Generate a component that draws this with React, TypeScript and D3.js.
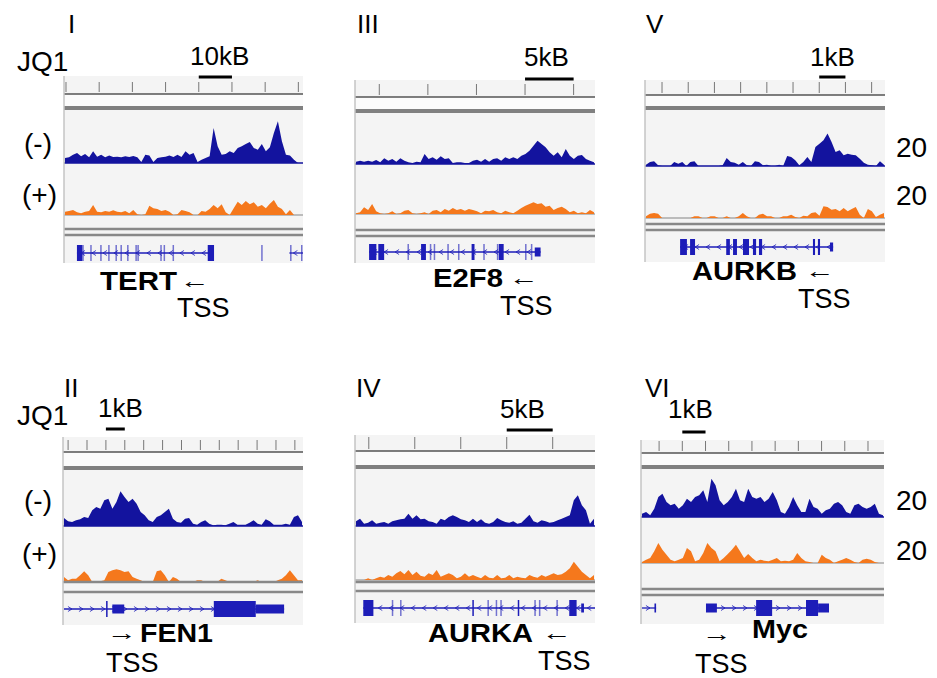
import React, { useRef, useEffect } from 'react';
import * as d3 from 'd3';

// coverage (reads, 0-20 scale) for each locus, JQ1 (-) blue and (+) orange
const tertMinus = [2, 2.3, 3.3, 4, 2.7, 3.6, 2.3, 4.7, 2.5, 3.3, 2.3, 3, 2.4, 2.5, 2.3, 2.7, 2.4, 2.8, 2.3, 0.4, 3.3, 3, 0.4, 2, 2.3, 2.5, 3, 2.4, 3.3, 2.4, 4.7, 3.3, 4, 0.4, 1.3, 2, 2.7, 14, 6.7, 3.3, 3.6, 4.7, 4, 6, 6.7, 7.6, 8.4, 6, 5.3, 7.6, 4.7, 6.3, 12, 16.7, 8.7, 3.3, 3, 1.3, 0, 0];
const tertPlus = [1.3, 1.6, 2, 1.1, 0.7, 1.3, 1.6, 4, 1.3, 1.1, 1.6, 1.3, 1.9, 1.3, 1.1, 1.6, 0.7, 2, 0.3, 0, 0.3, 3.7, 2.7, 2.4, 1.6, 2, 1.3, 0, 0.3, 2, 1.6, 1.1, 0, 0, 1.6, 1.3, 2.4, 4, 2.7, 4.3, 1.1, 0, 2.7, 5.3, 4, 5.6, 4.3, 5.1, 3.3, 4, 2.7, 4.5, 6, 3.3, 2.4, 0.3, 2, 0, 0, 0];
const e2f8Minus = [0.9, 1.3, 0.9, 1.3, 0.9, 1.6, 0.7, 2.3, 1.3, 2, 0.9, 2.3, 1.3, 0.7, 0.4, 0.9, 0.7, 4, 2, 2.7, 1.7, 3.1, 2, 2.3, 0.4, 0.7, 0.7, 0.4, 0.4, 1.3, 1.7, 0.9, 2, 0.9, 2, 2.3, 1.3, 2.7, 2, 2.7, 2, 3.3, 4, 5.3, 7.3, 9.3, 8, 6.7, 4.7, 3.3, 4.7, 2.7, 6, 3.3, 2, 3.3, 3.6, 2, 1.3, 0.7];
const e2f8Plus = [0.3, 0.7, 2.7, 1.6, 4, 1.1, 0.3, 0, 0.3, 1.1, 0, 0.3, 1.3, 1.6, 0.3, 0, 0.3, 0.7, 0, 1.3, 1.6, 0.7, 2, 1.3, 2.4, 1.6, 2, 1.3, 2, 1.6, 1.1, 0.3, 1.3, 1.1, 1.6, 0.7, 0.3, 1.3, 0.7, 0.3, 1.3, 2.4, 3.3, 4, 4.7, 4, 4.3, 2.9, 3.3, 1.6, 2.4, 2.9, 2, 0.7, 1.3, 0.3, 0.7, 0.3, 1.6, 0.7];
const aurkbMinus = [0.5, 1.6, 1.9, 0.3, 0, 0, 0, 1.6, 0.9, 1.6, 0, 1.6, 1.9, 0, 0, 0, 0, 0, 0, 0.3, 3.2, 1.6, 1.3, 0.5, 1.6, 0.3, 0, 1.9, 1.6, 0.3, 0.5, 0, 0, 0.5, 0, 4, 3.6, 2.3, 0.3, 1.6, 3.6, 1.6, 7.6, 8.9, 10.3, 13, 9.6, 5.6, 6.3, 4.3, 4.9, 4.5, 4.3, 2.9, 1.3, 0.5, 0.3, 0, 1.9, 0.5];
const aurkbPlus = [0.7, 1.7, 2, 1.7, 0, 0, 0, 0, 0, 0, 0, 0, 0.7, 0.7, 0, 0, 0.7, 0.7, 0, 0, 0.7, 0, 0, 0.7, 2, 0.7, 0, 0, 1.3, 1.7, 0.7, 0.7, 0, 0, 0.7, 0.7, 1.3, 0.4, 0, 0.9, 0.7, 2, 2.3, 0.9, 4.7, 4.4, 3.3, 3.6, 2.7, 4, 2.7, 3.6, 4.4, 1.3, 0, 3.6, 2.7, 0.4, 1.3, 2];
const fen1Minus = [3.2, 1.9, 1.6, 2.3, 2.7, 3.6, 3.2, 6.3, 7.6, 6.9, 10.3, 10.9, 6.9, 9.6, 13.9, 11.6, 9.6, 10.9, 8.9, 5.6, 4.3, 2.3, 1.6, 3.6, 4.3, 5.6, 6.9, 2.9, 1.6, 1.3, 2.9, 3.2, 0.9, 0.5, 1.6, 2.3, 0.9, 0.3, 0.5, 0.5, 0.3, 0.9, 1.6, 0.5, 0.5, 0.5, 1.3, 2.3, 0.9, 0.5, 2.7, 1.9, 0.5, 0.5, 0.5, 0.9, 0.5, 3.6, 4.3, 1.6];
const fen1Plus = [2, 0.7, 1.3, 1.3, 2.7, 4.3, 2.7, 0, 0, 0.3, 0.7, 4, 4.7, 5.1, 4.7, 4, 4.3, 2, 1.3, 0.7, 0, 0, 0, 4.3, 4.7, 2.7, 0, 2, 1.3, 0, 0, 0, 0, 0.7, 0.7, 0, 0, 0, 0, 1.3, 0.7, 0, 0, 0, 0, 0, 0, 0, 0.7, 0, 0, 0, 0, 0.7, 1.3, 2.7, 4.7, 2.7, 0.7, 0.7];
const aurkaMinus = [1.9, 2.9, 0.9, 1.3, 2.3, 0.9, 1.3, 1.6, 0.9, 1.9, 2.3, 2.7, 2.9, 4.9, 2.9, 4.3, 2.7, 2.9, 1.9, 1.6, 0.9, 2.9, 2.3, 3.6, 4.3, 3.6, 2.7, 2.3, 1.6, 2.9, 1.6, 2.7, 1.3, 0.9, 1.6, 3.2, 2.3, 1.6, 1.3, 1.9, 0.9, 1.3, 2.9, 4.5, 1.9, 1.3, 2.3, 1.9, 1.3, 1.6, 2.3, 2.9, 3.6, 4.3, 10.3, 12.3, 8.3, 6.3, 0.9, 2.9];
const aurkaPlus = [0, 0, 0, 0.7, 0, 0.7, 1.3, 0.9, 2, 1.3, 2.7, 3.6, 2.3, 4, 2, 3.3, 1.7, 1.3, 2.7, 2, 4, 1.3, 2, 2.7, 2, 0.7, 1.3, 2.7, 1.3, 2, 1.3, 0.7, 2, 0.9, 0.7, 2, 0.7, 0.9, 2, 0.7, 1.3, 0.9, 0.7, 2, 1.3, 0.9, 2, 1.3, 2, 2.7, 2, 2.3, 3.3, 4.7, 7.3, 5.3, 3.3, 2, 0.7, 2];
const mycMinus = [1.3, 2, 0.7, 3.3, 8, 9.3, 6, 4.7, 5.3, 3.3, 4.7, 7.3, 6, 8, 8.7, 10.7, 6, 15.3, 12.7, 6.7, 4.7, 6, 8, 11.3, 6.7, 6, 11.3, 8, 7.3, 8, 6, 7.3, 10, 6.7, 2, 1.3, 4, 8, 4.7, 2, 2, 7.3, 4, 3.3, 1.3, 2.7, 3.3, 5.3, 6, 4.7, 2, 1.3, 4.7, 5.3, 4, 3.3, 4, 5.3, 1.3, 0.7];
const mycPlus = [0.4, 1.3, 2, 4.7, 8, 5.3, 3.3, 1.3, 0.7, 1.3, 2, 6, 4.7, 0.7, 1.3, 4, 8, 6, 4.7, 0.7, 2, 3.6, 5.3, 7.3, 4.7, 2, 3.6, 2, 0.7, 1.3, 0.9, 0.7, 1.3, 2, 0.7, 0.9, 0.7, 1.3, 4, 2, 0.7, 0.4, 0, 0, 3.3, 2, 1.3, 0, 0.7, 1.3, 2, 1.3, 0.4, 0, 1.3, 1.7, 1.3, 0.4, 0, 0];

// gene models in kb from the left edge of each view: [start, end, c=coding / u=utr]
const tertIntrons = [[3.9, 45.2], [67.9, 72]];
const tertExons = [[3.9, 5.5, 'c'], [5.5, 5.6, 'c'], [7.9, 8.0, 'c'], [10.9, 11.0, 'c'], [13.3, 13.4, 'c'], [15.5, 15.6, 'c'], [17, 17.1, 'c'], [19, 19.1, 'c'], [21.5, 21.6, 'c'], [22.1, 22.2, 'c'], [29, 29.2, 'c'], [30, 30.1, 'c'], [32.7, 32.8, 'c'], [43.3, 45.2, 'c'], [59.4, 59.5, 'c'], [68.1, 68.4, 'c'], [71.4, 71.7, 'c']];
const e2f8Introns = [[1.45, 19.1]];
const e2f8Exons = [[1.45, 2.2, 'c'], [2.4, 3.0, 'c'], [5.4, 5.5, 'c'], [6.8, 7.3, 'c'], [7.7, 7.8, 'c'], [8.1, 8.2, 'c'], [9.5, 9.6, 'c'], [10.6, 10.7, 'c'], [12.0, 12.3, 'c'], [13.2, 13.3, 'c'], [14.6, 14.7, 'c'], [14.8, 15.3, 'c'], [17.5, 17.6, 'c'], [18.1, 18.2, 'c'], [18.5, 19.1, 'u']];
const aurkbIntrons = [[1.34, 7.18]];
const aurkbExons = [[1.34, 1.6, 'c'], [1.72, 1.91, 'c'], [3.1, 3.24, 'c'], [3.36, 3.51, 'c'], [3.74, 3.97, 'c'], [4.12, 4.24, 'c'], [4.35, 4.47, 'c'], [6.41, 6.49, 'c'], [6.6, 6.68, 'c'], [7.06, 7.18, 'u']];
const fen1Introns = [[0.05, 11.7]];
const fen1Exons = [[2.28, 2.36, 'c'], [2.61, 3.24, 'u'], [7.98, 10.2, 'c'], [10.2, 11.7, 'u']];
const aurkaIntrons = [[0.9, 26.1]];
const aurkaExons = [[0.9, 2.0, 'c'], [4.0, 4.07, 'c'], [4.9, 4.97, 'c'], [12.76, 12.9, 'c'], [14.4, 14.5, 'c'], [15.3, 15.4, 'c'], [15.8, 15.9, 'c'], [17.7, 17.85, 'c'], [19.5, 19.57, 'c'], [20.0, 20.07, 'c'], [21.9, 21.97, 'c'], [23.3, 24.1, 'c'], [24.6, 24.9, 'u']];
const mycIntrons = [[0.04, 0.65], [2.8, 8.1]];
const mycExons = [[0.58, 0.65, 'u'], [2.8, 3.27, 'u'], [4.96, 5.65, 'c'], [7.11, 7.63, 'c'], [7.63, 8.1, 'u']];

const rowLabels = ['JQ1', '(-)', '(+)'];
const maxLabel = '20';

// view layout, one per panel
const panels = [
  { numeral: 'I', minus: tertMinus, plus: tertPlus, introns: tertIntrons, exons: tertExons, strand: -1,
    x0: 64, x1: 303, span: 72, tickStart: 0.6, tickStep: 10, barStart: 40.6, bar: '10kB', barTextX: 190, barTextY: 65, barY: 77,
    bgTop: 76, tickTop: 82, tickBot: 92, ruler: 94, thick: 108, blueBase: 163, orangeBase: 215, dbl1: 229, dbl2: 235, gene: 253, bgBot: 263, numX: 68, numY: 33 },
  { numeral: 'III', minus: e2f8Minus, plus: e2f8Plus, introns: e2f8Introns, exons: e2f8Exons, strand: -1,
    x0: 355, x1: 595, span: 24.7, tickStart: 2.5, tickStep: 5, barStart: 17.5, bar: '5kB', barTextX: 524, barTextY: 66, barY: 79,
    bgTop: 80, tickTop: 84, tickBot: 95, ruler: 97, thick: 111, blueBase: 164, orangeBase: 214, dbl1: 230, dbl2: 236, gene: 252, bgBot: 263, numX: 357, numY: 33 },
  { numeral: 'V', minus: aurkbMinus, plus: aurkbPlus, introns: aurkbIntrons, exons: aurkbExons, strand: -1,
    x0: 645, x1: 885, span: 9.16, tickStart: 0.65, tickStep: 1, barStart: 6.65, bar: '1kB', barTextX: 810, barTextY: 66, barY: 77,
    bgTop: 80, tickTop: 82, tickBot: 93, ruler: 95, thick: 108, blueBase: 166, orangeBase: 218, dbl1: 224, dbl2: 230, gene: 247, bgBot: 262, numX: 646, numY: 33 },
  { numeral: 'II', minus: fen1Minus, plus: fen1Plus, introns: fen1Introns, exons: fen1Exons, strand: 1,
    x0: 63, x1: 303, span: 12.7, tickStart: 0.27, tickStep: 1, barStart: 2.27, bar: '1kB', barTextX: 98, barTextY: 417, barY: 429,
    bgTop: 437, tickTop: 440, tickBot: 450, ruler: 452, thick: 468, blueBase: 526, orangeBase: 582, dbl1: 582, dbl2: 592, gene: 609, bgBot: 625, numX: 64, numY: 397 },
  { numeral: 'IV', minus: aurkaMinus, plus: aurkaPlus, introns: aurkaIntrons, exons: aurkaExons, strand: -1,
    x0: 355, x1: 595, span: 26.1, tickStart: 1.5, tickStep: 5, barStart: 16.5, bar: '5kB', barTextX: 500, barTextY: 418, barY: 430,
    bgTop: 435, tickTop: 437, tickBot: 449, ruler: 451, thick: 467, blueBase: 526, orangeBase: 580, dbl1: 582, dbl2: 591, gene: 608, bgBot: 623, numX: 356, numY: 397 },
  { numeral: 'VI', minus: mycMinus, plus: mycPlus, introns: mycIntrons, exons: mycExons, strand: 1,
    x0: 641, x1: 884, span: 10.47, tickStart: 0.78, tickStep: 1, barStart: 1.78, bar: '1kB', barTextX: 668, barTextY: 418, barY: 432,
    bgTop: 440, tickTop: 441, tickBot: 451, ruler: 453, thick: 467, blueBase: 517, orangeBase: 563, dbl1: 589, dbl2: 595, gene: 608, bgBot: 624, numX: 645, numY: 397 },
];

// gene names with arrow and TSS, positioned under each panel
const geneLabels = [
  { name: 'TERT', x: 100, y: 290, w: 77, arrow: '←', ax: 180, ay: 288, tx: 177, ty: 317 },
  { name: 'E2F8', x: 433, y: 287, w: 70, arrow: '←', ax: 509, ay: 285, tx: 500, ty: 315 },
  { name: 'AURKB', x: 692, y: 280, w: 105, arrow: '←', ax: 805, ay: 278, tx: 798, ty: 308 },
  { name: 'FEN1', x: 140, y: 642, w: 73, arrow: '→', ax: 107, ay: 640, tx: 106, ty: 672 },
  { name: 'AURKA', x: 428, y: 642, w: 105, arrow: '←', ax: 542, ay: 640, tx: 538, ty: 670 },
  { name: 'Myc', x: 752, y: 638, w: 56, arrow: '→', ax: 702, ay: 641, tx: 695, ty: 673 },
];

const BLUE = '#13139e';
const ORANGE = '#f5781c';
const GENE = '#1d1db8';
const FONT = '"Liberation Sans", Arial, sans-serif';

// draw a text and stretch it horizontally to a given width
const fitText = (svg, str, x, y, width, size, weight) => {
  const t = svg.append('text').attr('x', 0).attr('y', 0).attr('font-size', size)
    .attr('font-weight', weight).attr('font-family', FONT).text(str);
  const len = t.node().getComputedTextLength() || width;
  t.attr('transform', `translate(${x},${y}) scale(${width / len},1)`);
};

const App = () => {
  const svgRef = useRef(null);

  useEffect(() => {
    const svg = d3.select(svgRef.current);
    svg.selectAll('*').remove();

    panels.forEach((p) => {
      const g = svg.append('g');
      const x = d3.scaleLinear().domain([0, p.span]).range([p.x0, p.x1]);

      // view background
      g.append('rect').attr('x', p.x0).attr('y', p.bgTop).attr('width', p.x1 - p.x0).attr('height', p.bgBot - p.bgTop).attr('fill', '#f4f4f4');
      g.append('rect').attr('x', p.x0).attr('y', p.ruler).attr('width', p.x1 - p.x0).attr('height', p.thick - p.ruler).attr('fill', '#fbfbfb');

      // ruler ticks
      g.selectAll('.tick')
        .data(d3.range(p.tickStart, p.span, p.tickStep))
        .enter()
        .append('line')
        .attr('x1', (d) => x(d)).attr('x2', (d) => x(d))
        .attr('y1', p.tickTop).attr('y2', p.tickBot)
        .attr('stroke', '#777').attr('stroke-width', 1);

      g.append('line').attr('x1', p.x0).attr('x2', p.x1).attr('y1', p.ruler).attr('y2', p.ruler).attr('stroke', '#555').attr('stroke-width', 1.5);
      g.append('line').attr('x1', p.x0).attr('x2', p.x1).attr('y1', p.thick).attr('y2', p.thick).attr('stroke', '#808080').attr('stroke-width', 4);

      // scale bar
      g.append('line').attr('x1', x(p.barStart)).attr('x2', x(p.barStart + p.tickStep)).attr('y1', p.barY).attr('y2', p.barY).attr('stroke', '#000').attr('stroke-width', 3);
      g.append('text').attr('x', p.barTextX).attr('y', p.barTextY).attr('font-size', 26).attr('font-family', FONT).text(p.bar);

      // coverage tracks
      const drawTrack = (values, base, color, lineColor) => {
        const xi = d3.scaleLinear().domain([0, values.length - 1]).range([p.x0 + 1, p.x1 - 1]);
        const y = d3.scaleLinear().domain([0, 20]).range([base, base - 50]);
        const area = d3.area().x((d, i) => xi(i)).y0(base).y1((d) => y(d));
        g.append('line').attr('x1', p.x0).attr('x2', p.x1).attr('y1', base).attr('y2', base).attr('stroke', lineColor).attr('stroke-width', 1.5);
        g.append('path').datum(values).attr('d', area).attr('fill', color);
      };
      drawTrack(p.minus, p.blueBase, BLUE, BLUE);
      drawTrack(p.plus, p.orangeBase, ORANGE, '#aaaaaa');

      // separators above gene track
      g.append('line').attr('x1', p.x0).attr('x2', p.x1).attr('y1', p.dbl1).attr('y2', p.dbl1).attr('stroke', '#888').attr('stroke-width', 2.5);
      g.append('line').attr('x1', p.x0).attr('x2', p.x1).attr('y1', p.dbl2).attr('y2', p.dbl2).attr('stroke', '#888').attr('stroke-width', 2.5);

      // gene model
      p.introns.forEach(([s, e]) => {
        g.append('line').attr('x1', x(s)).attr('x2', x(e)).attr('y1', p.gene).attr('y2', p.gene).attr('stroke', GENE).attr('stroke-width', 1.3);
        d3.range(x(s) + 6, x(e) - 3, 11).forEach((cx) => {
          g.append('path')
            .attr('d', `M${cx - 2 * p.strand},${p.gene - 2.5}L${cx + 2 * p.strand},${p.gene}L${cx - 2 * p.strand},${p.gene + 2.5}`)
            .attr('fill', 'none').attr('stroke', GENE).attr('stroke-width', 0.8);
        });
      });
      p.exons.forEach(([s, e, kind]) => {
        const h = kind === 'c' ? 16 : 9;
        const w = Math.max(1.5, x(e) - x(s));
        g.append('rect').attr('x', x(s)).attr('y', p.gene - h / 2).attr('width', w).attr('height', h)
          .attr('fill', GENE).attr('opacity', x(e) - x(s) < 1.2 ? 0.6 : 1);
      });

      // left border
      g.append('line').attr('x1', p.x0).attr('x2', p.x0).attr('y1', p.bgTop).attr('y2', p.bgBot).attr('stroke', '#c4c4c4').attr('stroke-width', 1.5);

      // panel numeral
      svg.append('text').attr('x', p.numX).attr('y', p.numY).attr('font-size', 26).attr('font-family', FONT).text(p.numeral);
    });

    // row labels on the left
    [71, 425].forEach((yy) => {
      svg.append('text').attr('x', 17).attr('y', yy).attr('font-size', 28).attr('font-family', FONT).text(rowLabels[0]);
    });
    [[153, 204], [510, 563]].forEach(([ym, yp]) => {
      svg.append('text').attr('x', 24).attr('y', ym).attr('font-size', 28).attr('font-family', FONT).text(rowLabels[1]);
      svg.append('text').attr('x', 22).attr('y', yp).attr('font-size', 28).attr('font-family', FONT).text(rowLabels[2]);
    });

    // data range labels on the right
    [157, 205, 510, 560].forEach((yy) => {
      svg.append('text').attr('x', 896).attr('y', yy).attr('font-size', 28).attr('font-family', FONT).text(maxLabel);
    });

    // gene names, arrows, TSS
    geneLabels.forEach((l) => {
      fitText(svg, l.name, l.x, l.y, l.w, 25, 'bold');
      fitText(svg, l.arrow, l.ax, l.ay, 30, 22, 'normal');
      svg.append('text').attr('x', l.tx).attr('y', l.ty).attr('font-size', 27).attr('font-family', FONT).text('TSS');
    });
  }, []);

  return (
    <svg ref={svgRef} width={937} height={678} style={{ position: 'absolute', left: 0, top: 0, background: '#fff' }}></svg>
  );
};

export default App;
